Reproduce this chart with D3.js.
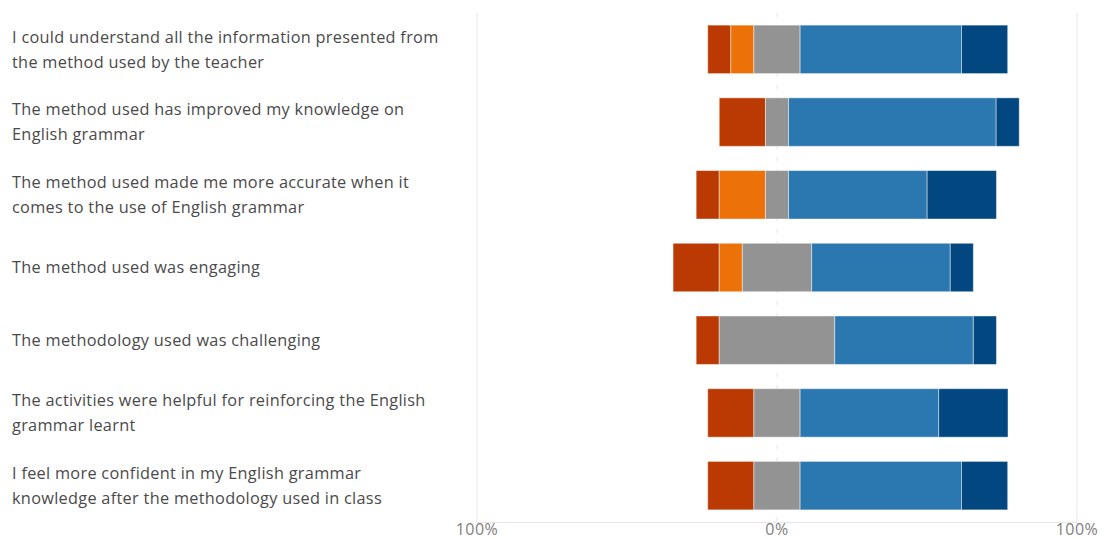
<!DOCTYPE html>
<html>
<head>
<meta charset="utf-8">
<script src="https://cdn.jsdelivr.net/npm/d3@7"></script>
<style>
	body { margin: 0; background: #fff; }
	svg text { font-family: "Open Sans", "Noto Sans", sans-serif; }
</style>
</head>
<body>
<div id="chart"></div>
<script>
// questions, top to bottom (line breaks as in the original)
const questions = [
	"I could understand all the information presented from\nthe method used by the teacher",
	"The method used has improved my knowledge on\nEnglish grammar",
	"The method used made me more accurate when it\ncomes to the use of English grammar",
	"The method used was engaging",
	"The methodology used was challenging",
	"The activities were helpful for reinforcing the English\ngrammar learnt",
	"I feel more confident in my English grammar\nknowledge after the methodology used in class"
];
// percent of respondents per answer
const stronglyDisagree = [7.7, 15.4, 7.7, 15.4, 7.7, 15.4, 15.4];
const disagree         = [7.7, 0, 15.4, 7.7, 0, 0, 0];
const neutral          = [15.4, 7.7, 7.7, 23.1, 38.5, 15.4, 15.4];
const agree            = [53.8, 69.2, 46.2, 46.2, 46.2, 46.2, 53.8];
const stronglyAgree    = [15.4, 7.7, 23.1, 7.7, 7.7, 23.1, 15.4];
const tickValues = [-100, 0, 100];

const colors = ["#bb3a03", "#ec7109", "#939393", "#2b78b0", "#02477f"];

const width = 1109, height = 539;
const svg = d3.select("#chart").append("svg").attr("width", width).attr("height", height);

const x = d3.scaleLinear().domain([-100, 100]).range([477, 1077]);
const y = d3.scaleBand().domain(d3.range(questions.length)).range([13, 522])
	.paddingInner(1/3).paddingOuter(1/6);

// gridlines
svg.append("g").selectAll("line").data([-100, 100]).join("line")
	.attr("x1", d => x(d)).attr("x2", d => x(d))
	.attr("y1", 13).attr("y2", 522)
	.attr("stroke", "#e6e6e6").attr("stroke-width", 1);
svg.append("line")
	.attr("x1", x(-100)).attr("x2", x(100) + 1)
	.attr("y1", 522.5).attr("y2", 522.5)
	.attr("stroke", "#e6e6e6");
// center dashed line
svg.append("line")
	.attr("x1", x(0)).attr("x2", x(0))
	.attr("y1", 13).attr("y2", 522)
	.attr("stroke", "#e4e4e4").attr("stroke-dasharray", "4,8");

// build stacked rows, neutral split around zero
const series = [stronglyDisagree, disagree, neutral, agree, stronglyAgree];
let rows = questions.map((q, i) => {
	let start = -(stronglyDisagree[i] + disagree[i] + neutral[i] / 2);
	let segs = [];
	series.forEach((s, k) => {
		segs.push({row: i, k: k, x0: start, x1: start + s[i]});
		start += s[i];
	});
	return segs;
});

svg.append("g").selectAll("g").data(rows).join("g")
	.selectAll("rect").data(d => d.filter(s => s.x1 - s.x0 > 0)).join("rect")
	.attr("x", d => x(d.x0))
	.attr("width", d => x(d.x1) - x(d.x0))
	.attr("y", d => y(d.row))
	.attr("height", y.bandwidth())
	.attr("fill", d => colors[d.k])
	.attr("stroke", "rgba(255,255,255,0.45)")
	.attr("stroke-width", 1);

// category labels
const labels = svg.append("g").selectAll("text").data(questions).join("text")
	.attr("x", 12)
	.attr("fill", "#4a4a4a")
	.attr("font-size", 16.3)
	.attr("letter-spacing", 0.3);
labels.each(function(d, i) {
	let lines = d.split("\n");
	let cy = y(i) + y.bandwidth() / 2;
	let off = (lines.length - 1) * 12.5;
	d3.select(this).selectAll("tspan").data(lines).join("tspan")
		.attr("x", 12)
		.attr("y", (l, j) => cy - off + j * 25)
		.attr("dy", "0.35em")
		.text(l => l);
});

// axis tick labels
svg.append("g").selectAll("text").data(tickValues).join("text")
	.attr("x", d => x(d))
	.attr("y", 529)
	.attr("dy", "0.35em")
	.attr("text-anchor", "middle")
	.attr("fill", "#808080")
	.attr("font-size", 16)
	.attr("letter-spacing", 0.5)
	.text(d => Math.abs(d) + "%");
</script>
</body>
</html>
